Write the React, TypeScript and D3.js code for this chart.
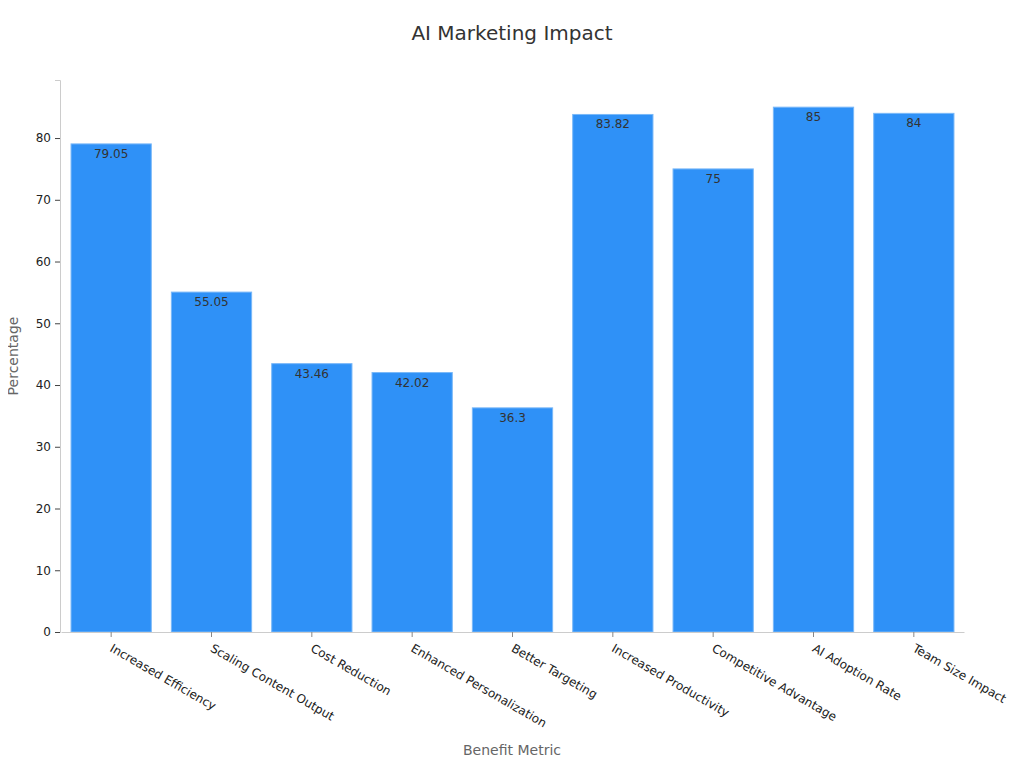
import * as d3 from "d3";
import { useEffect, useRef } from "react";

const categories = [
  "Increased Efficiency",
  "Scaling Content Output",
  "Cost Reduction",
  "Enhanced Personalization",
  "Better Targeting",
  "Increased Productivity",
  "Competitive Advantage",
  "AI Adoption Rate",
  "Team Size Impact",
];
const values = [79.05, 55.05, 43.46, 42.02, 36.3, 83.82, 75, 85, 84];
const yTicks = [0, 10, 20, 30, 40, 50, 60, 70, 80];

const FONT = "DejaVu Sans, sans-serif";

export default function App() {
  const ref = useRef<SVGSVGElement>(null);

  useEffect(() => {
    if (!ref.current) return;
    const svg = d3.select(ref.current);
    svg.selectAll("*").remove();

    const width = 1024;
    const height = 768;
    const margin = { top: 80, right: 60, bottom: 136, left: 60 };
    const innerW = width - margin.left - margin.right;
    const innerH = height - margin.top - margin.bottom;

    svg.attr("width", width).attr("height", height).style("font-family", FONT);

    svg
      .append("text")
      .attr("x", width / 2)
      .attr("y", 40)
      .attr("text-anchor", "middle")
      .style("font-size", "20px")
      .style("fill", "#333")
      .text("AI Marketing Impact");

    const g = svg.append("g").attr("transform", `translate(${margin.left},${margin.top})`);

    const x = d3.scaleBand().domain(categories).range([1, innerW]).paddingInner(0.2).paddingOuter(0.1);
    const y = d3.scaleLinear().domain([0, 89.4]).range([innerH, 0]);

    // y axis
    const yAxis = g.append("g").call(d3.axisLeft(y).tickValues(yTicks).tickSize(5).tickPadding(4));
    yAxis.select(".domain").attr("stroke", "#ccc");
    yAxis.selectAll(".tick line").attr("stroke", "#444");
    yAxis.selectAll(".tick text").style("font-size", "12px").style("fill", "#222").style("font-family", FONT);

    // bars
    g.selectAll(".bar")
      .data(values)
      .join("rect")
      .attr("class", "bar")
      .attr("x", (_, i) => x(categories[i]) ?? 0)
      .attr("y", (d) => y(d))
      .attr("width", x.bandwidth())
      .attr("height", (d) => innerH - y(d))
      .attr("fill", "#2f91f7")
      .attr("stroke", "#7ab8f8")
      .attr("stroke-width", 1);

    g.selectAll(".val")
      .data(values)
      .join("text")
      .attr("class", "val")
      .attr("x", (_, i) => (x(categories[i]) ?? 0) + x.bandwidth() / 2)
      .attr("y", (d) => y(d) + 14)
      .attr("text-anchor", "middle")
      .style("font-size", "12px")
      .style("fill", "#333")
      .text((d) => String(d));

    // x axis
    const xAxis = g
      .append("g")
      .attr("transform", `translate(0,${innerH})`)
      .call(d3.axisBottom(x).tickSize(5).tickSizeOuter(0));
    xAxis.select(".domain").attr("stroke", "#ccc");
    xAxis.selectAll(".tick line").attr("stroke", "#888");
    xAxis
      .selectAll(".tick text")
      .style("font-size", "12px")
      .style("fill", "#222")
      .style("font-family", FONT)
      .attr("text-anchor", "start")
      .attr("dy", "0.35em")
      .attr("transform", "translate(0,15) rotate(30)")
      .attr("y", 0)
      .attr("x", 0);

    svg
      .append("text")
      .attr("x", margin.left + innerW / 2)
      .attr("y", 755)
      .attr("text-anchor", "middle")
      .style("font-size", "14px")
      .style("fill", "#666")
      .text("Benefit Metric");

    svg
      .append("text")
      .attr("transform", `translate(18,${margin.top + innerH / 2}) rotate(-90)`)
      .attr("text-anchor", "middle")
      .style("font-size", "14px")
      .style("fill", "#666")
      .text("Percentage");
  }, []);

  return <svg ref={ref} style={{ display: "block", margin: "-8px" }} />;
}
